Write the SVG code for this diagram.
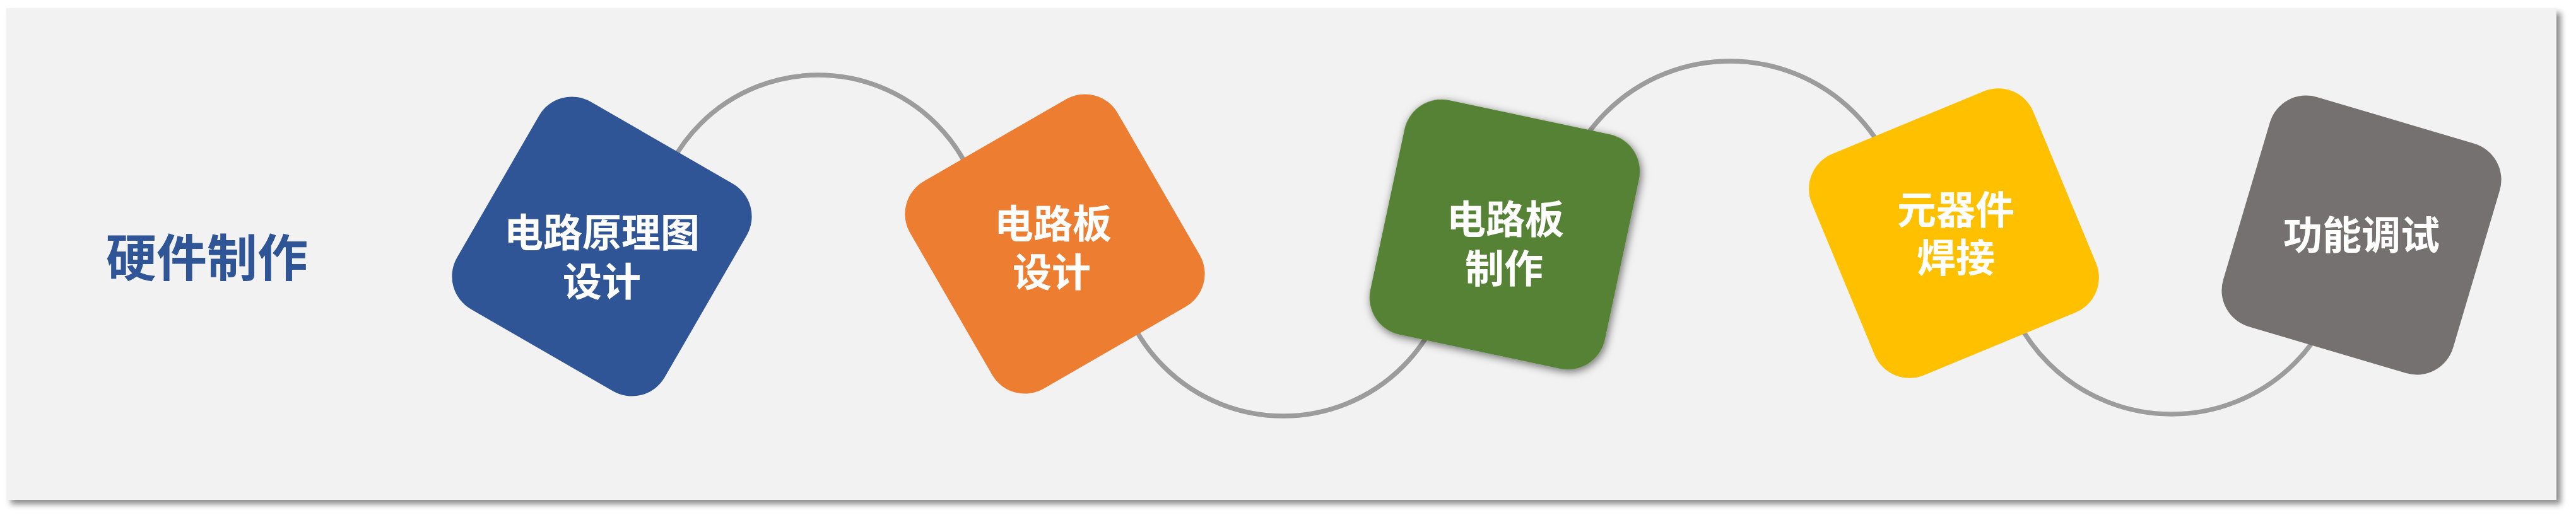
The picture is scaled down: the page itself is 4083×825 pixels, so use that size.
<svg xmlns="http://www.w3.org/2000/svg" width="4083" height="825" viewBox="0 0 4083 825">
<defs>
<filter id="panelShadow" x="-2%" y="-5%" width="104%" height="112%">
<feDropShadow dx="7" dy="7" stdDeviation="5" flood-color="#000" flood-opacity="0.45"/>
</filter>
<filter id="nodeShadow" x="-20%" y="-20%" width="140%" height="140%">
<feDropShadow dx="3" dy="3" stdDeviation="7" flood-color="#000" flood-opacity="0.55"/>
</filter>
<style>
.lbl{font-family:"Noto Sans CJK SC","Noto Sans CJK JP",sans-serif;font-weight:700;font-size:62px;fill:#ffffff;text-anchor:middle}
.title{font-family:"Noto Sans CJK SC","Noto Sans CJK JP",sans-serif;font-weight:700;font-size:80px;fill:#2F5597;text-anchor:middle}
.arc{fill:none;stroke:#9C9C9C;stroke-width:7.5}
.box{stroke:none}
</style>
</defs>
<rect x="0" y="0" width="4083" height="825" fill="#ffffff"/>
<rect id="panel" x="10" y="13" width="4042" height="780" fill="#F2F2F2" filter="url(#panelShadow)"/>
<text id="title" class="title" x="328" y="438">硬件制作</text>
<g id="connectors">
<path class="arc" d="M1033,383 A264,264 0 0 1 1561,383"/>
<path class="arc" d="M1766,392 A268,268 0 0 0 2302,392"/>
<path class="arc" d="M2464,375 A278,278 0 0 1 3020,375"/>
<path class="arc" d="M3166,381 A276,276 0 0 0 3718,381"/>
</g>
<g id="node1" transform="translate(954,391)">
<rect class="box" x="-190" y="-190" width="380" height="380" rx="60" fill="#2F5597" transform="rotate(30)"/>
<text class="lbl"><tspan x="0" y="1">电路原理图</tspan><tspan x="0" y="79">设计</tspan></text>
</g>
<g id="node2" transform="translate(1672,387)">
<rect class="box" x="-190" y="-190" width="380" height="380" rx="60" fill="#ED7D31" transform="rotate(-30)"/>
<text class="lbl"><tspan x="-3" y="-9">电路板</tspan><tspan x="-5" y="68">设计</tspan></text>
</g>
<g id="node3" transform="translate(2385,372)">
<rect class="box" x="-190" y="-190" width="380" height="380" rx="60" fill="#548235" transform="rotate(12)" filter="url(#nodeShadow)"/>
<text class="lbl"><tspan x="1" y="-1">电路板</tspan><tspan x="-1" y="77">制作</tspan></text>
</g>
<g id="node4" transform="translate(3097,370)">
<rect class="box" x="-190" y="-190" width="380" height="380" rx="60" fill="#FFC000" transform="rotate(-22.5)"/>
<text class="lbl"><tspan x="3" y="-14">元器件</tspan><tspan x="3" y="62">焊接</tspan></text>
</g>
<g id="node5" transform="translate(3743,373)">
<rect class="box" x="-190" y="-190" width="380" height="380" rx="60" fill="#767171" transform="rotate(16.5)"/>
<text class="lbl" x="0" y="23">功能调试</text>
</g>
</svg>
